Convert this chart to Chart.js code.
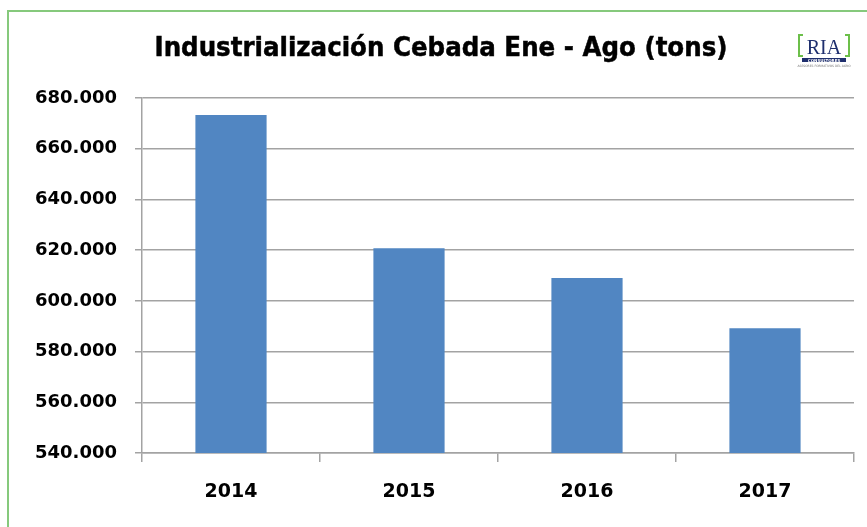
<!DOCTYPE html>
<html lang="es">
<head>
    <meta charset="UTF-8">
    <title>Industrialización Cebada Ene - Ago (tons)</title>
    <script src="https://cdn.jsdelivr.net/npm/chart.js"></script>
    <style>
        body { margin: 0; width: 867px; height: 527px; overflow: hidden; background: #fff; position: relative; }
        #frame { position: absolute; left: 7px; top: 10px; width: 900px; height: 600px; border: 2px solid #86c97c; }
        #chart { position: absolute; left: 0; top: 0; }
    </style>
</head>
<body>
    <div id="frame"></div>
    <canvas id="chart" width="867" height="527"></canvas>

    <script>
        // data
        const chartTitle = 'Industrialización Cebada Ene - Ago (tons)';
        const years = ['2014', '2015', '2016', '2017'];
        const tons = [673300, 620700, 609000, 589200];
        const yTicks = [540000, 560000, 580000, 600000, 620000, 640000, 660000, 680000];

        const fmt = v => String(v).replace(/\B(?=(\d{3})+(?!\d))/g, '.');

        // heavy, slightly condensed title like the original
        const heavyTitle = {
            id: 'heavyTitle',
            afterDraw(chart) {
                const c = chart.ctx;
                c.save();
                c.font = 'bold 26px "DejaVu Sans"';
                const w = c.measureText(chartTitle).width;
                const target = 573;
                c.translate(441, 56);
                c.scale(target / w, 1);
                c.textAlign = 'center';
                c.textBaseline = 'alphabetic';
                c.fillStyle = '#000';
                c.strokeStyle = '#000';
                c.lineWidth = 0.5;
                c.fillText(chartTitle, 0, 0);
                c.strokeText(chartTitle, 0, 0);
                c.restore();
            }
        };

        // small RIA logo in the top right corner
        const logo = {
            id: 'logo',
            afterDraw(chart) {
                const c = chart.ctx;
                c.save();
                c.strokeStyle = '#6cbf4a';
                c.lineWidth = 2;
                c.beginPath();
                c.moveTo(803, 35); c.lineTo(799, 35); c.lineTo(799, 56); c.lineTo(803, 56);
                c.moveTo(845, 35); c.lineTo(849, 35); c.lineTo(849, 56); c.lineTo(845, 56);
                c.stroke();
                c.fillStyle = '#1f2f6e';
                c.font = '20px "Liberation Serif"';
                c.textAlign = 'center';
                c.textBaseline = 'alphabetic';
                c.fillText('RIA', 824, 54);
                c.fillRect(802, 58, 44, 4);
                c.fillStyle = '#fff';
                c.font = 'bold 4px "DejaVu Sans"';
                c.fillText('CONSULTORES', 824, 61.5);
                c.fillStyle = '#777';
                c.font = '3px "DejaVu Sans"';
                c.fillText('ASESORES FORMATIVOS DEL AGRO', 824, 67);
                c.restore();
            }
        };

        const ctx = document.getElementById('chart').getContext('2d');
        new Chart(ctx, {
            type: 'bar',
            data: {
                labels: years,
                datasets: [{
                    data: tons,
                    backgroundColor: '#5186c2',
                    borderWidth: 0,
                    barPercentage: 0.4,
                    categoryPercentage: 1.0
                }]
            },
            options: {
                responsive: false,
                animation: false,
                layout: { padding: { left: 0, right: 13, top: 98, bottom: 0 } },
                plugins: {
                    legend: { display: false },
                    tooltip: { enabled: false },
                    title: { display: false }
                },
                scales: {
                    x: {
                        grid: { drawOnChartArea: false, drawTicks: true, tickLength: 9, color: '#a3a3a3', lineWidth: 1.5, offset: true },
                        border: { color: '#a3a3a3', width: 1.5 },
                        ticks: { color: '#000', padding: 19, font: { family: 'DejaVu Sans', size: 19, weight: 'bold' } },
                        afterFit: s => { s.height = 74; }
                    },
                    y: {
                        min: 540000,
                        max: 680000,
                        afterBuildTicks: s => { s.ticks = yTicks.map(v => ({ value: v })); },
                        grid: { color: '#a3a3a3', lineWidth: 1.5, tickLength: 7 },
                        border: { color: '#a3a3a3', width: 1.5 },
                        ticks: {
                            color: '#000',
                            padding: 18,
                            font: { family: 'DejaVu Sans', size: 18, weight: 'bold' },
                            callback: v => fmt(v)
                        },
                        afterFit: s => { s.width = 142; }
                    }
                }
            },
            plugins: [heavyTitle, logo]
        });
    </script>
</body>
</html>
